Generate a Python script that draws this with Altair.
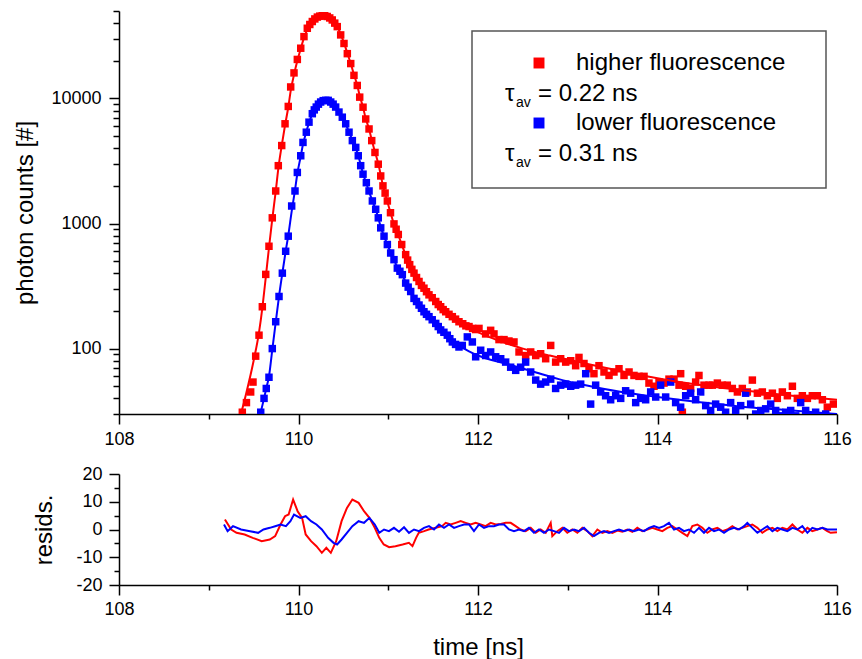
import altair as alt
import pandas as pd

# ---------------- data ----------------
series_names = ["higher fluorescence", "lower fluorescence"]
series_colors = ["#ff0000", "#0000ff"]
tau_labels = ["= 0.22 ns", "= 0.31 ns"]

# measured decay, higher fluorescence (time in ns, photon counts)
red_t = [109.374, 109.42, 109.467, 109.493, 109.523, 109.56, 109.597, 109.635, 109.671, 109.708,
         109.746, 109.775, 109.813, 109.85, 109.886, 109.913, 109.95, 109.987, 110.025, 110.061,
         110.098, 110.126, 110.154, 110.182, 110.21, 110.237, 110.265, 110.292, 110.32, 110.348,
         110.376, 110.404, 110.432, 110.47, 110.507, 110.544, 110.582, 110.618, 110.655, 110.682,
         110.719, 110.749, 110.786, 110.816, 110.852, 110.889, 110.916, 110.941, 110.965, 110.99,
         111.025, 111.064, 111.088, 111.112, 111.15, 111.194, 111.216, 111.239, 111.263, 111.287,
         111.315, 111.343, 111.37, 111.398, 111.426, 111.454, 111.49, 111.529, 111.557, 111.584,
         111.612, 111.64, 111.677, 111.714, 111.75, 111.788, 111.83, 111.865, 111.9, 111.94,
         111.974, 112.011, 112.085, 112.141, 112.178, 112.234, 112.29, 112.345, 112.401, 112.457,
         112.531, 112.587, 112.643, 112.698, 112.754, 112.81, 112.865, 112.921, 112.977, 113.033,
         113.088, 113.125, 113.181, 113.237, 113.292, 113.348, 113.404, 113.46, 113.515, 113.571,
         113.627, 113.683, 113.738, 113.794, 113.85, 113.905, 113.961, 114.017, 114.072, 114.128,
         114.184, 114.24, 114.258, 114.277, 114.314, 114.369, 114.425, 114.462, 114.518, 114.574,
         114.611, 114.667, 114.723, 114.778, 114.834, 114.89, 114.945, 115.001, 115.057, 115.113,
         115.168, 115.224, 115.28, 115.335, 115.391, 115.447, 115.503, 115.558, 115.614, 115.67,
         115.725, 115.781, 115.837, 115.892, 115.96]
red_c = [31, 37, 45, 54, 87, 128, 216, 392, 658, 1110,
         1820, 2900, 4200, 6270, 8630, 12350, 16000, 20500, 25200, 31200,
         36400, 39000, 41200, 43200, 44700, 45500, 45800, 45800, 45200, 44000,
         42400, 40000, 37500, 32200, 27500, 22800, 19000, 15300, 12700, 10240,
         8510, 6850, 5700, 4600, 3700, 2980, 2400, 2000, 1750, 1514,
         1220, 993, 900, 817, 679, 564, 510, 469, 430, 401,
         370, 344, 320, 304, 285, 269, 255, 238, 225, 216,
         205, 197, 188, 180, 172, 164, 158, 152, 150, 145,
         142, 145, 131, 140, 131, 118, 118, 115, 113, 94,
         88, 94, 88, 91, 83, 106, 78, 83, 78, 80,
         73, 85, 76, 69, 63, 73, 65, 61, 65, 69,
         61, 65, 61, 60, 60, 53, 50, 54, 53, 57,
         57, 51, 63, 31, 50, 48, 54, 61, 51, 51,
         51, 53, 51, 51, 48, 45, 48, 45, 56, 44,
         45, 42, 44, 40, 45, 42, 50, 40, 42, 40,
         42, 42, 39, 34, 36]

# measured decay, lower fluorescence
blue_t = [109.579, 109.616, 109.641, 109.671, 109.708, 109.746, 109.783, 109.82, 109.857, 109.886,
          109.924, 109.961, 109.987, 110.025, 110.05, 110.087, 110.117, 110.154, 110.176, 110.198,
          110.222, 110.247, 110.275, 110.303, 110.331, 110.359, 110.386, 110.414, 110.451, 110.488,
          110.526, 110.563, 110.6, 110.638, 110.666, 110.693, 110.719, 110.756, 110.786, 110.823,
          110.86, 110.889, 110.916, 110.953, 110.99, 111.027, 111.064, 111.101, 111.13, 111.157,
          111.194, 111.222, 111.25, 111.287, 111.315, 111.343, 111.37, 111.398, 111.426, 111.454,
          111.49, 111.529, 111.557, 111.584, 111.62, 111.658, 111.686, 111.714, 111.75, 111.788,
          111.825, 111.881, 111.937, 111.974, 112.03, 112.085, 112.141, 112.197, 112.253, 112.308,
          112.364, 112.42, 112.475, 112.531, 112.587, 112.643, 112.698, 112.754, 112.81, 112.865,
          112.921, 112.977, 113.033, 113.088, 113.144, 113.2, 113.255, 113.311, 113.367, 113.422,
          113.478, 113.534, 113.59, 113.645, 113.701, 113.757, 113.812, 113.868, 113.924, 113.98,
          114.035, 114.091, 114.147, 114.202, 114.258, 114.314, 114.369, 114.425, 114.481, 114.537,
          114.592, 114.648, 114.704, 114.759, 114.815, 114.871, 114.927, 114.982, 115.038, 115.094,
          115.15, 115.205, 115.261, 115.317, 115.372, 115.428, 115.484, 115.54, 115.595, 115.651,
          115.707, 115.762, 115.818, 115.874]
blue_c = [31, 40, 48, 59, 100, 164, 261, 401, 600, 792,
          1380, 1820, 2560, 3480, 4450, 5370, 6460, 7550, 8100, 8530,
          9000, 9360, 9600, 9660, 9650, 9360, 9000, 8530, 7780, 7080,
          6270, 5370, 4600, 4060, 3480, 2900, 2480, 2120, 1820, 1515,
          1300, 1110, 923, 792, 679, 581, 514, 440, 415, 390,
          334, 310, 286, 252, 238, 223, 210, 197, 188, 180,
          170, 159, 150, 141, 135, 128, 120, 113, 108, 103,
          106, 124, 113, 86, 97, 88, 94, 86, 83, 78,
          71, 67, 71, 78, 65, 56, 52, 54, 57, 48,
          51, 52, 50, 51, 52, 63, 36, 51, 45, 42,
          39, 42, 40, 46, 44, 37, 40, 39, 45, 41,
          51, 41, 54, 37, 34, 42, 44, 39, 45, 35,
          32, 36, 34, 31, 37, 32, 35, 44, 36, 30,
          32, 33, 36, 32, 29, 31, 32, 29, 37, 32,
          29, 31, 29, 30]

# fitted curves
red_fit_t = [109.30, 109.374, 109.45, 109.5, 109.56, 109.6, 109.635, 109.671, 109.708, 109.746,
             109.775, 109.813, 109.85, 109.886, 109.913, 109.95, 109.987, 110.025, 110.061, 110.098,
             110.154, 110.21, 110.265, 110.32, 110.376, 110.432, 110.47, 110.507, 110.544, 110.582,
             110.618, 110.655, 110.682, 110.719, 110.749, 110.786, 110.816, 110.852, 110.889, 110.916,
             110.941, 110.99, 111.025, 111.064, 111.112, 111.15, 111.194, 111.239, 111.287, 111.343,
             111.398, 111.454, 111.529, 111.584, 111.64, 111.714, 111.788, 111.9, 111.975, 112.2,
             112.5, 112.8, 113.2, 113.6, 114.0, 114.5, 115.0, 115.5, 116.0]
red_fit_c = [22, 33, 55, 80, 135, 220, 370, 640, 1090, 1800,
             2750, 4200, 6100, 8500, 11500, 15500, 20000, 25000, 30500, 35500,
             41000, 44500, 45500, 45000, 42300, 37500, 32500, 27800, 23000, 19000,
             15500, 12700, 10500, 8500, 6900, 5700, 4650, 3750, 3000, 2450,
             2000, 1500, 1220, 990, 810, 680, 560, 470, 400, 340,
             295, 260, 230, 210, 194, 178, 164, 148, 138, 118,
             100, 88, 76, 66, 58, 51, 46, 42, 39]
blue_fit_t = [109.5, 109.579, 109.616, 109.641, 109.671, 109.708, 109.746, 109.783, 109.82, 109.857,
              109.886, 109.924, 109.961, 109.987, 110.025, 110.05, 110.087, 110.117, 110.154, 110.198,
              110.247, 110.303, 110.359, 110.414, 110.451, 110.488, 110.526, 110.563, 110.6, 110.638,
              110.666, 110.693, 110.719, 110.756, 110.786, 110.823, 110.86, 110.889, 110.916, 110.953,
              110.99, 111.027, 111.064, 111.101, 111.157, 111.194, 111.25, 111.287, 111.343, 111.398,
              111.454, 111.529, 111.584, 111.658, 111.714, 111.788, 111.9, 112.0, 112.3, 112.6,
              112.9, 113.2, 113.6, 114.0, 114.5, 115.0, 115.5, 116.0]
blue_fit_c = [20, 31, 40, 48, 60, 98, 162, 262, 400, 600,
              800, 1250, 1850, 2500, 3450, 4300, 5400, 6400, 7500, 8500,
              9300, 9650, 9350, 8550, 7800, 7050, 6250, 5400, 4650, 4000,
              3500, 2950, 2500, 2100, 1800, 1520, 1290, 1110, 940, 790,
              680, 585, 515, 445, 385, 340, 290, 255, 222, 198,
              180, 158, 142, 128, 116, 106, 95, 88, 76, 66,
              57, 51, 45, 41, 37, 34, 32, 30]

# residuals
red_res_t = [109.18, 109.25, 109.31, 109.40, 109.49, 109.59, 109.68, 109.74, 109.80, 109.85,
             109.89, 109.94, 109.99, 110.04, 110.08, 110.14, 110.20, 110.26, 110.31, 110.36,
             110.42, 110.48, 110.54, 110.60, 110.67, 110.73, 110.79, 110.85, 110.90, 110.95,
             111.01, 111.08, 111.16, 111.23, 111.27, 111.31, 111.34, 111.40, 111.45, 111.53,
             111.60, 111.64, 111.696, 111.751, 111.807, 111.863, 111.918, 111.974, 112.03, 112.085,
             112.141, 112.197, 112.253, 112.308, 112.364, 112.42, 112.475, 112.531, 112.587, 112.643,
             112.698, 112.754, 112.81, 112.828, 112.884, 112.94, 112.995, 113.051, 113.107, 113.163,
             113.218, 113.274, 113.33, 113.385, 113.441, 113.497, 113.553, 113.608, 113.664, 113.72,
             113.775, 113.831, 113.887, 113.943, 113.998, 114.054, 114.11, 114.165, 114.221, 114.277,
             114.333, 114.388, 114.444, 114.5, 114.555, 114.611, 114.667, 114.723, 114.778, 114.834,
             114.89, 114.945, 115.001, 115.057, 115.113, 115.168, 115.224, 115.28, 115.335, 115.391,
             115.447, 115.503, 115.558, 115.614, 115.67, 115.725, 115.781, 115.837, 115.892, 115.929,
             116.0]
red_res_v = [3.6, 0.0, -1.2, -1.8, -3.0, -4.2, -3.6, -2.4, 1.8, 4.8,
             5.4, 10.8, 6.6, 4.2, -1.8, -4.2, -6.0, -8.4, -6.6, -8.4,
             -4.2, 3.0, 7.8, 10.8, 9.6, 6.6, 4.2, 0.6, -3.0, -5.4,
             -6.4, -6.0, -5.4, -4.8, -6.0, -3.0, -1.2, -0.6, 0.0, 0.6,
             1.2, 2.4, 1.8, 2.4, 3.0, 2.4, 1.8, 2.4, 1.8, 1.2,
             2.4, 1.8, 2.0, 2.4, 2.4, 1.2, 0.0, -0.6, 0.6, -1.2,
             0.0, -1.2, 2.4, -2.4, -0.6, 0.6, -1.2, 0.0, -1.2, 0.6,
             -0.6, -2.4, 0.0, -1.2, -0.6, -1.2, -0.4, -0.8, 0.0, -0.8,
             0.6, -0.6, 0.0, 0.6, 0.0, -0.6, 0.6, 1.2, 0.0, -1.2,
             -2.4, 1.2, 1.8, 0.6, -1.2, 0.0, 0.6, -0.6, 0.0, 1.2,
             0.0, 0.6, 1.2, 1.8, 0.6, -1.2, 0.0, 0.6, -0.6, 0.6,
             0.0, 1.8, 0.0, -1.2, 0.6, -0.6, 0.0, 0.6, -0.6, -1.2,
             -1.0]
blue_res_t = [109.17, 109.21, 109.27, 109.36, 109.46, 109.55, 109.61, 109.68, 109.74, 109.80,
              109.86, 109.91, 109.95, 110.02, 110.08, 110.14, 110.20, 110.26, 110.33, 110.39,
              110.43, 110.48, 110.54, 110.60, 110.67, 110.73, 110.79, 110.85, 110.90, 110.953,
              111.008, 111.064, 111.12, 111.176, 111.231, 111.287, 111.343, 111.398, 111.454, 111.51,
              111.565, 111.621, 111.677, 111.733, 111.788, 111.844, 111.9, 111.955, 112.011, 112.067,
              112.123, 112.178, 112.234, 112.29, 112.345, 112.401, 112.457, 112.513, 112.568, 112.624,
              112.68, 112.735, 112.791, 112.847, 112.903, 112.958, 113.014, 113.07, 113.125, 113.181,
              113.237, 113.292, 113.348, 113.404, 113.46, 113.515, 113.571, 113.627, 113.683, 113.738,
              113.794, 113.85, 113.905, 113.961, 114.017, 114.072, 114.128, 114.184, 114.24, 114.295,
              114.351, 114.407, 114.462, 114.518, 114.574, 114.63, 114.685, 114.741, 114.797, 114.852,
              114.908, 114.964, 115.001, 115.057, 115.113, 115.168, 115.224, 115.28, 115.335, 115.391,
              115.447, 115.503, 115.558, 115.614, 115.67, 115.725, 115.781, 115.837, 115.892, 115.929,
              116.0]
blue_res_v = [1.8, -0.6, 1.2, 0.0, -0.6, -1.2, 0.0, 0.6, 1.2, 1.8,
              1.2, 3.0, 5.4, 4.2, 4.8, 3.0, 1.8, 0.0, -3.0, -4.8,
              -5.4, -3.6, -1.2, 1.2, 3.0, 2.4, 4.2, 1.8, -1.2, 0.0,
              -0.6, 0.6, -0.8, 0.8, -1.2, 0.0, -0.6, 0.6, 1.2, 0.0,
              1.8, 0.6, 1.8, 0.6, 1.2, 1.8, 1.8, -0.6, 1.8, 0.6,
              1.2, 1.2, 1.8, 1.8, 0.0, -0.6, 0.0, -0.6, 0.6, -1.2,
              0.0, -1.2, 0.0, -0.6, -1.2, 0.6, -0.6, 0.0, -0.6, 0.6,
              -1.2, -2.4, -1.2, -0.6, -1.2, -0.6, 0.0, -0.6, 0.0, -0.6,
              0.0, -0.6, 0.6, 1.2, 0.6, 1.2, 2.4, 0.0, 0.6, -0.6,
              0.0, -1.2, 0.6, -1.2, 0.6, -0.6, 0.0, -1.2, 0.0, 0.6,
              0.0, 1.2, 2.4, 0.6, -1.2, 0.0, 1.2, -0.6, 0.6, 0.0,
              -0.6, 0.6, 0.0, 1.2, -1.2, 0.6, 0.0, 0.6, 0.0, 0.0,
              0.0]

x_ticks = [108, 109, 110, 111, 112, 113, 114, 115, 116]
y_ticks = [30, 40, 50, 60, 70, 80, 90, 100, 200, 300, 400, 500, 600, 700, 800, 900,
           1000, 2000, 3000, 4000, 5000, 6000, 7000, 8000, 9000, 10000, 20000, 30000, 40000, 50000]
y_major = [100, 1000, 10000]
res_ticks = [-20, -15, -10, -5, 0, 5, 10, 15, 20]

# ---------------- tables ----------------
def long(ts, vs, name, vname):
    return pd.DataFrame({"t": ts, vname: vs, "series": name})

df_pts = pd.concat([long(red_t, red_c, series_names[0], "c"),
                    long(blue_t, blue_c, series_names[1], "c")])
df_fit = pd.concat([long(red_fit_t, red_fit_c, series_names[0], "c"),
                    long(blue_fit_t, blue_fit_c, series_names[1], "c")])
df_res = pd.concat([long(red_res_t, red_res_v, series_names[0], "r"),
                    long(blue_res_t, blue_res_v, series_names[1], "r")])

FONT = "Liberation Sans"
W = 718
H_TOP = 403
H_BOT = 111
LBL = 18

color = alt.Color("series:N", scale=alt.Scale(domain=series_names, range=series_colors), legend=None)

x_scale = alt.Scale(domain=[108, 116], nice=False, zero=False)


def minor_axis(test, major_tick, minor_tick, fmt_expr, **kw):
    return alt.Axis(
        labelExpr=f"({test}) ? {fmt_expr} : ''",
        labelFontSize={"condition": {"test": test, "value": LBL}, "value": 0},
        tickSize={"condition": {"test": test, "value": major_tick}, "value": minor_tick},
        grid=False, labelFlush=False, **kw)


x_major_test = "datum.value % 2 == 0"


def x_axis(title):
    if title:
        return minor_axis(x_major_test, 10, 5, "datum.value", values=x_ticks,
                          labelPadding=5, title=title, titlePadding=17)
    return minor_axis(x_major_test, 10, 5, "datum.value", values=x_ticks,
                      labelPadding=6, title=None)


y_major_test = " || ".join(f"datum.value == {v}" for v in y_major)
y_axis_top = minor_axis(y_major_test, 10, 6, "format(datum.value, 'd')", values=y_ticks,
                        title="photon counts [#]", labelPadding=8, titlePadding=13)

x_enc = alt.X("t:Q", scale=x_scale, axis=x_axis(None))
y_enc = alt.Y("c:Q", scale=alt.Scale(type="log", domain=[30, 50000], nice=False), axis=y_axis_top)

points = alt.Chart(df_pts).mark_square(size=56, opacity=1, clip=True).encode(
    x=x_enc, y=y_enc, color=color)
fits = alt.Chart(df_fit).mark_line(strokeWidth=2, clip=True, interpolate="monotone").encode(
    x="t:Q", y="c:Q", color=color, detail="series:N")

# legend box (annotation, pixel positions inside the plot area)
box = alt.Chart().mark_rect(filled=False, stroke="#555555", strokeWidth=1.5).encode(
    x=alt.value(353), x2=alt.value(707), y=alt.value(20), y2=alt.value(177))
legend_layers = [box]
row_y = [52, 112]
for i in range(2):
    legend_layers.append(alt.Chart().mark_square(size=120, color=series_colors[i], opacity=1).encode(
        x=alt.value(420), y=alt.value(row_y[i])))
    legend_layers.append(alt.Chart().mark_text(text=series_names[i], font=FONT, fontSize=24,
                                               align="left", baseline="alphabetic", color="black").encode(
        x=alt.value(457), y=alt.value(row_y[i] + 7)))
    ty = row_y[i] + 38
    legend_layers.append(alt.Chart().mark_text(text="τ", font=FONT, fontSize=24,
                                               align="left", baseline="alphabetic", color="black").encode(
        x=alt.value(386), y=alt.value(ty)))
    legend_layers.append(alt.Chart().mark_text(text="av", font=FONT, fontSize=14,
                                               align="left", baseline="alphabetic", color="black").encode(
        x=alt.value(397), y=alt.value(ty + 6)))
    legend_layers.append(alt.Chart().mark_text(text=tau_labels[i], font=FONT, fontSize=24,
                                               align="left", baseline="alphabetic", color="black").encode(
        x=alt.value(419), y=alt.value(ty)))

top = alt.layer(points, fits, *legend_layers).properties(width=W, height=H_TOP)

res_major_test = "datum.value % 10 == 0"
resid = alt.Chart(df_res).mark_line(strokeWidth=2, clip=True).encode(
    x=alt.X("t:Q", scale=x_scale, axis=x_axis("time [ns]")),
    y=alt.Y("r:Q", scale=alt.Scale(domain=[-20, 20], nice=False),
            axis=minor_axis(res_major_test, 10, 5, "datum.value", values=res_ticks,
                            title="resids.", labelPadding=7, titlePadding=19)),
    color=color, detail="series:N", order="t:Q",
).properties(width=W, height=H_BOT)

chart = alt.vconcat(top, resid, spacing=17).properties(
    padding={"left": 5, "top": 2, "right": 0, "bottom": 0}
).configure_view(stroke=None).configure_axis(
    labelFont=FONT, labelFontSize=LBL, labelColor="black",
    titleFont=FONT, titleFontSize=24, titleFontWeight="normal", titleColor="black",
    domainColor="black", domainWidth=1.5, tickColor="black", tickWidth=1.5,
    labelOverlap=False,
)

chart.save("out.html", embed_options={"renderer": "svg", "actions": False})
